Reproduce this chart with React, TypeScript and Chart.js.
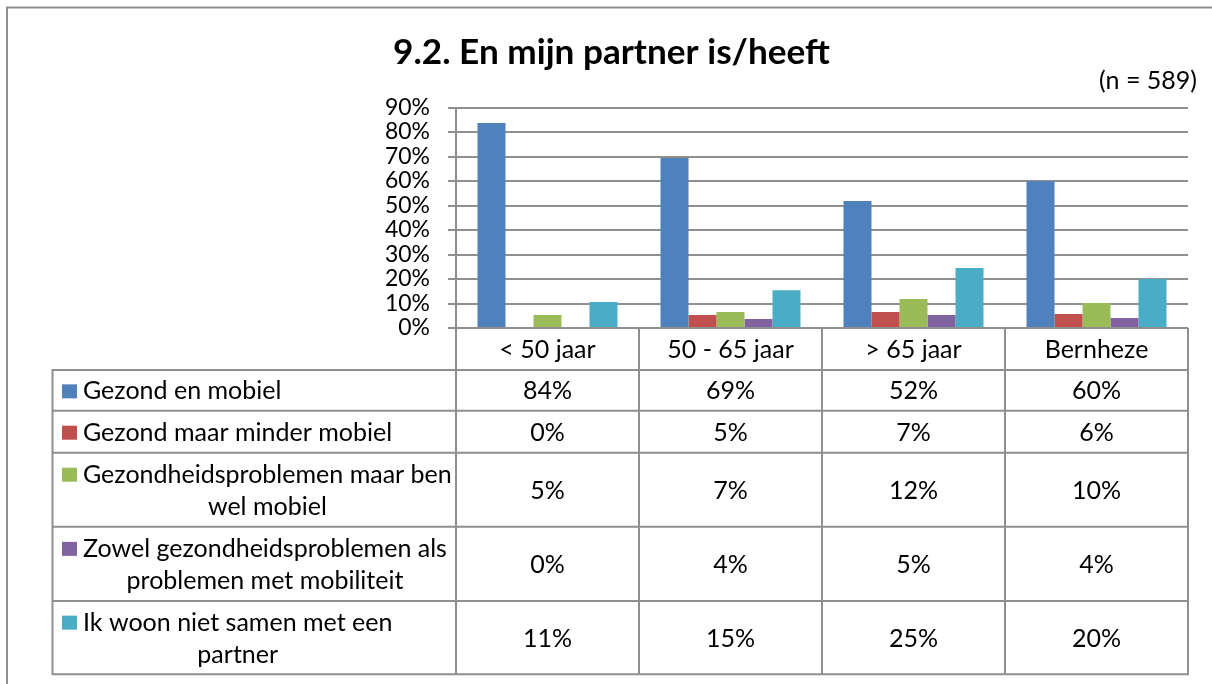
import React, { useEffect, useRef } from "react";
import { Chart, registerables } from "chart.js";

Chart.register(...registerables);

const title = "9.2. En mijn partner is/heeft";
const sampleNote = "(n = 589)";
const categories = ["< 50 jaar", "50 - 65 jaar", "> 65 jaar", "Bernheze"];
const seriesNames = [
  "Gezond en mobiel",
  "Gezond maar minder mobiel",
  "Gezondheidsproblemen maar ben wel mobiel",
  "Zowel gezondheidsproblemen als problemen met mobiliteit",
  "Ik woon niet samen met een partner",
];
const legendLines = [
  ["Gezond en mobiel"],
  ["Gezond maar minder mobiel"],
  ["Gezondheidsproblemen maar ben", "wel mobiel"],
  ["Zowel gezondheidsproblemen als", "problemen met mobiliteit"],
  ["Ik woon niet samen met een", "partner"],
];
const gezondMobiel = [83.7, 69.4, 51.8, 60.0];
const gezondMinderMobiel = [0, 5.3, 6.5, 5.7];
const problemenWelMobiel = [5.3, 6.5, 11.8, 10.2];
const zowelProblemen = [0, 3.7, 5.3, 4.1];
const nietSamen = [10.6, 15.4, 24.5, 20.0];
const tableLabels = [
  ["84%", "69%", "52%", "60%"],
  ["0%", "5%", "7%", "6%"],
  ["5%", "7%", "12%", "10%"],
  ["0%", "4%", "5%", "4%"],
  ["11%", "15%", "25%", "20%"],
];
const yTicks = [0, 10, 20, 30, 40, 50, 60, 70, 80, 90];
const colors = ["#4F81BD", "#C0504D", "#9BBB59", "#8064A2", "#4BACC6"];

const FONT = "Lato";
const GRID = "#8f8f8f";

function fitSize(text: string, weight: string, target: number): number {
  const c = document.createElement("canvas").getContext("2d")!;
  c.font = `${weight} 100px ${FONT}`;
  return (100 * target) / c.measureText(text).width;
}

export default function App() {
  const ref = useRef<HTMLCanvasElement | null>(null);

  useEffect(() => {
    const canvas = ref.current!;
    const bodySize = fitSize("Gezondheidsproblemen maar ben", "normal", 369);
    const tickSize = fitSize("90%", "normal", 45);
    const titleSize = fitSize(title, "bold", 437);
    const allSeries = [gezondMobiel, gezondMinderMobiel, problemenWelMobiel, zowelProblemen, nietSamen];

    const tablePlugin = {
      id: "tablePlugin",
      afterDraw(chart: any) {
        const ctx = chart.ctx as CanvasRenderingContext2D;
        const area = chart.chartArea;
        const L = area.left;
        const R = area.right;
        const bottom = area.bottom;
        const colW = (R - L) / categories.length;
        const tableLeft = 52.5;
        const rowLines = [370, 410.7, 452.7, 526.7, 601, 674.3];
        ctx.save();
        // outer chart border
        ctx.strokeStyle = GRID;
        ctx.lineWidth = 2;
        ctx.beginPath();
        ctx.moveTo(7, 700);
        ctx.lineTo(7, 7.5);
        ctx.lineTo(1230, 7.5);
        ctx.stroke();

        // table lines
        ctx.beginPath();
        for (let i = 0; i <= categories.length; i++) {
          const x = L + i * colW;
          ctx.moveTo(x, bottom);
          ctx.lineTo(x, rowLines[rowLines.length - 1]);
        }
        ctx.moveTo(tableLeft, rowLines[0]);
        ctx.lineTo(tableLeft, rowLines[rowLines.length - 1]);
        rowLines.forEach((y) => {
          ctx.moveTo(tableLeft - 1, y);
          ctx.lineTo(R + 1, y);
        });
        ctx.stroke();

        // header labels
        ctx.fillStyle = "#000";
        ctx.font = `${bodySize}px ${FONT}`;
        ctx.textAlign = "center";
        ctx.textBaseline = "middle";
        categories.forEach((c, i) => {
          ctx.fillText(c, L + (i + 0.5) * colW, (bottom + rowLines[0]) / 2 + 1);
        });

        // rows
        for (let r = 0; r < seriesNames.length; r++) {
          const top = rowLines[r];
          const bot = rowLines[r + 1];
          const mid = (top + bot) / 2 + 1;
          const lines = legendLines[r];
          const lh = 32;
          const y0 = mid - ((lines.length - 1) * lh) / 2;
          // key
          ctx.fillStyle = colors[r];
          ctx.fillRect(62, y0 - 7, 15, 14);
          ctx.fillStyle = "#000";
          ctx.textAlign = "left";
          ctx.fillText(lines[0], 83, y0);
          if (lines.length > 1) {
            const w0 = ctx.measureText(lines[0]).width;
            ctx.textAlign = "center";
            ctx.fillText(lines[1], 83 + w0 / 2, y0 + lh);
          }
          ctx.textAlign = "center";
          tableLabels[r].forEach((t, i) => {
            ctx.fillText(t, L + (i + 0.5) * colW, mid);
          });
        }

        // title and note
        ctx.font = `bold ${titleSize}px ${FONT}`;
        ctx.textAlign = "center";
        ctx.fillText(title, 611.5, 53);
        ctx.font = `${bodySize}px ${FONT}`;
        ctx.textAlign = "right";
        ctx.fillText(sampleNote, 1197, 81);
        ctx.restore();
      },
    };

    const chart = new Chart(canvas, {
      type: "bar",
      data: {
        labels: categories,
        datasets: allSeries.map((d, i) => ({
          label: seriesNames[i],
          data: d,
          backgroundColor: colors[i],
          borderWidth: 0,
          categoryPercentage: 0.765,
          barPercentage: 1,
        })),
      },
      options: {
        responsive: false,
        animation: false,
        layout: { padding: { top: 107.5, bottom: 684 - 328, left: 0, right: 1212 - 1188 } },
        plugins: { legend: { display: false }, title: { display: false }, tooltip: { enabled: false } },
        scales: {
          x: { display: false },
          y: {
            min: 0,
            max: 90,
            afterFit: (s: any) => {
              s.width = 456;
            },
            afterBuildTicks: (s: any) => {
              s.ticks = yTicks.map((v) => ({ value: v }));
            },
            ticks: {
              autoSkip: false,
              callback: (v: any) => `${v}%`,
              color: "#000",
              font: { family: FONT, size: tickSize },
              padding: 18,
            },
            grid: { color: GRID, lineWidth: 2, tickLength: 8, drawTicks: true },
            border: { display: true, color: GRID, width: 2 },
          },
        },
      },
      plugins: [tablePlugin],
    });
    return () => chart.destroy();
  }, []);

  return (
    <div style={{ position: "fixed", left: 0, top: 0, width: 1212, height: 684, background: "#fff" }}>
      <canvas ref={ref} width={1212} height={684} style={{ display: "block" }} />
    </div>
  );
}
